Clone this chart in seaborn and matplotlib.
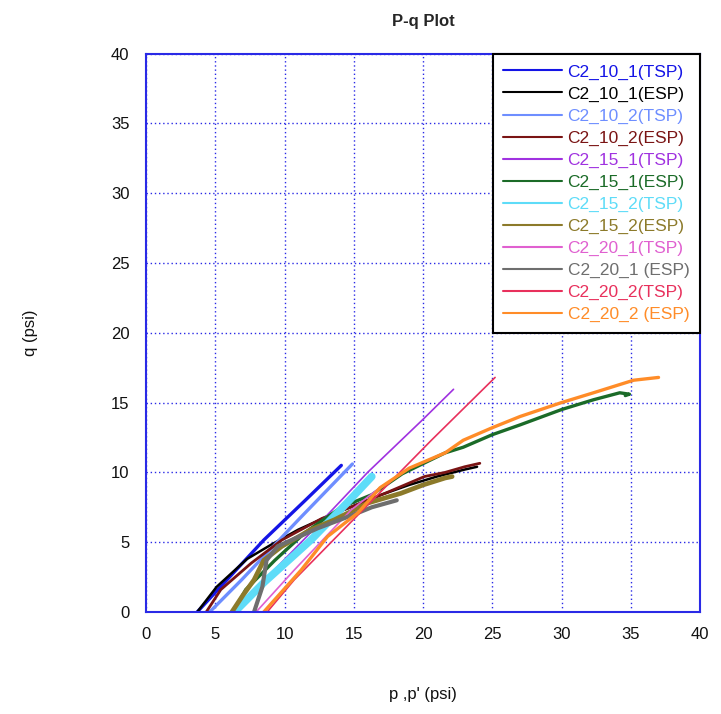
import matplotlib
matplotlib.use("Agg")
import matplotlib.pyplot as plt
import seaborn as sns
import pandas as pd

# Stress paths for each specimen: mean stress p (or p') and deviator half q, psi
labels = [
    "C2_10_1(TSP)", "C2_10_1(ESP)", "C2_10_2(TSP)", "C2_10_2(ESP)",
    "C2_15_1(TSP)", "C2_15_1(ESP)", "C2_15_2(TSP)", "C2_15_2(ESP)",
    "C2_20_1(TSP)", "C2_20_1 (ESP)", "C2_20_2(TSP)", "C2_20_2 (ESP)",
]

p_10_1_tsp = [3.7, 8.5, 11.5, 14.1]
q_10_1_tsp = [0.0, 5.15, 8.0, 10.5]
p_10_1_esp = [3.7, 5.1, 7.3, 9.0, 11.0, 13.0, 15.0, 17.0, 19.0, 21.0, 23.0, 23.9]
q_10_1_esp = [0.0, 1.8, 3.8, 4.8, 5.9, 6.8, 7.6, 8.4, 9.1, 9.7, 10.2, 10.4]
p_10_2_tsp = [4.6, 6.9, 11.0, 14.9]
q_10_2_tsp = [0.0, 2.3, 6.6, 10.6]
p_10_2_esp = [4.35, 5.4, 7.6, 9.8, 12.7, 15.0, 17.5, 20.1, 21.6, 23.0, 24.1]
q_10_2_esp = [0.0, 1.6, 3.5, 5.15, 6.7, 7.6, 8.6, 9.7, 10.0, 10.4, 10.65]
p_15_1_tsp = [6.3, 12.0, 16.0, 20.0, 22.2]
q_15_1_tsp = [0.0, 5.8, 10.0, 13.8, 15.95]
p_15_1_esp = [6.3, 7.2, 9.3, 11.5, 14.1, 16.3, 18.5, 21.6, 22.9, 25.0, 27.0, 30.0, 32.3, 34.2, 34.9, 34.6]
q_15_1_esp = [0.0, 1.6, 3.7, 5.7, 7.5, 8.4, 9.9, 11.4, 11.8, 12.7, 13.4, 14.5, 15.2, 15.7, 15.6, 15.5]
p_15_2_tsp = [6.4, 8.5, 11.9, 14.5, 16.3]
q_15_2_tsp = [0.0, 2.1, 5.15, 7.8, 9.7]
p_15_2_esp = [6.2, 7.0, 7.8, 8.5, 9.8, 11.9, 13.6, 16.0, 18.4, 20.0, 21.6, 22.1]
q_15_2_esp = [0.0, 1.2, 2.3, 3.7, 4.7, 5.9, 6.6, 7.8, 8.5, 9.1, 9.6, 9.7]
p_20_1_tsp = [7.95, 10.7, 14.8, 17.0]
q_20_1_tsp = [0.0, 3.0, 7.3, 9.0]
p_20_1_esp = [7.8, 8.4, 8.7, 9.5, 12.4, 14.8, 16.3, 18.1]
q_20_1_esp = [0.0, 1.8, 3.7, 4.7, 6.0, 6.9, 7.5, 8.0]
p_20_2_tsp = [8.75, 10.7, 20.6, 25.2]
q_20_2_tsp = [0.0, 2.3, 12.3, 16.8]
p_20_2_esp = [8.5, 11.2, 13.1, 15.3, 16.9, 19.0, 21.6, 22.9, 25.0, 27.0, 30.0, 32.3, 35.2, 37.0]
q_20_2_esp = [0.0, 3.0, 5.4, 7.1, 8.9, 10.3, 11.4, 12.3, 13.2, 14.0, 15.0, 15.7, 16.6, 16.8]

paths = [
    (p_10_1_tsp, q_10_1_tsp), (p_10_1_esp, q_10_1_esp),
    (p_10_2_tsp, q_10_2_tsp), (p_10_2_esp, q_10_2_esp),
    (p_15_1_tsp, q_15_1_tsp), (p_15_1_esp, q_15_1_esp),
    (p_15_2_tsp, q_15_2_tsp), (p_15_2_esp, q_15_2_esp),
    (p_20_1_tsp, q_20_1_tsp), (p_20_1_esp, q_20_1_esp),
    (p_20_2_tsp, q_20_2_tsp), (p_20_2_esp, q_20_2_esp),
]

colors = ["#1414E6", "#000000", "#6E8EFF", "#7A1414",
          "#A032E0", "#1B6B28", "#5EDCF8", "#8C7A2A",
          "#E060D0", "#6E6E6E", "#E8305C", "#FF8C28"]
widths = [2.4, 1.8, 2.4, 2.0, 1.2, 2.4, 5.5, 3.4, 1.2, 3.0, 1.2, 2.4]

ticks = [0, 5, 10, 15, 20, 25, 30, 35, 40]

sns.set_theme(style="white")
plt.rcParams["font.family"] = ["Liberation Sans", "DejaVu Sans"]

fig = plt.figure(figsize=(7.21, 7.14), dpi=100)
ax = fig.add_axes([0.2025, 0.1429, 0.7685, 0.7821])

blue = "#2A2AE6"
for lab, (pp, qq), c, w in zip(labels, paths, colors, widths):
    df = pd.DataFrame({"p": pp, "q": qq})
    sns.lineplot(data=df, x="p", y="q", ax=ax, sort=False, estimator=None,
                 color=c, linewidth=w, label=lab, legend=False)

ax.set_xlim(0, 40)
ax.set_ylim(0, 40)
ax.set_xticks(ticks)
ax.set_yticks(ticks)
ax.grid(True, color=blue, linestyle=(0, (1, 2)), linewidth=1.0)
for s in ax.spines.values():
    s.set_color(blue)
    s.set_linewidth(1.5)
    s.set_visible(True)
ax.tick_params(direction="in", length=8, width=1.3, color=blue,
               labelsize=12, labelcolor="#111111")
ax.tick_params(axis="x", pad=11)
ax.tick_params(axis="y", pad=12)

ax.set_xlabel("p ,p' (psi)", fontsize=12, labelpad=32, color="#111111")
ax.set_ylabel("q (psi)", fontsize=12, labelpad=52, color="#111111")
ax.set_title("P-q Plot", fontsize=12, fontweight="bold", pad=20)

handles = [plt.Line2D([], [], color=c, linewidth=1.5) for c in colors]
leg = ax.legend(handles, labels, loc="upper right", borderaxespad=0,
                fontsize=12.5, handlelength=3.4, handletextpad=0.3,
                labelspacing=0.39, borderpad=0.62, fancybox=False,
                framealpha=1, edgecolor="black")
leg.get_frame().set_linewidth(1.5)
for t, c in zip(leg.get_texts(), colors):
    t.set_color(c)

fig.savefig("out.png", dpi=100)
